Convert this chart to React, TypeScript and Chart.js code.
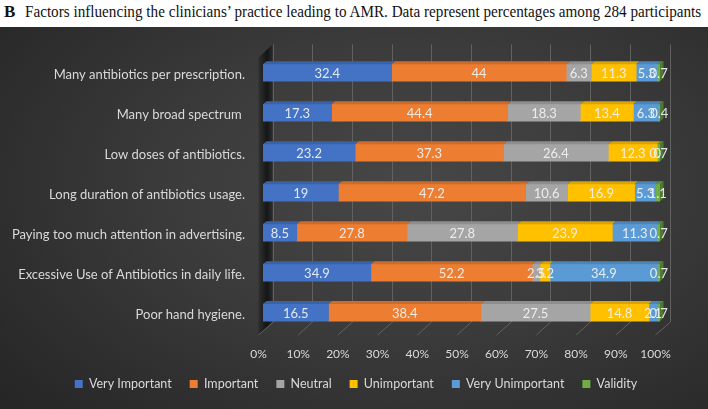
import React, { useEffect, useLayoutEffect, useRef } from "react";
import { Chart, registerables } from "chart.js";

Chart.register(...registerables);

const categories = [
  "Many antibiotics per prescription.",
  "Many broad spectrum ",
  "Low doses of antibiotics.",
  "Long duration of antibiotics usage.",
  "Paying too much attention in advertising.",
  "Excessive Use of Antibiotics in daily life.",
  "Poor hand hygiene.",
];
const seriesNames = ["Very Important", "Important", "Neutral", "Unimportant", "Very Unimportant", "Validity"];
const veryImportant = [32.4, 17.3, 23.2, 19, 8.5, 34.9, 16.5];
const important = [44, 44.4, 37.3, 47.2, 27.8, 52.2, 38.4];
const neutral = [6.3, 18.3, 26.4, 10.6, 27.8, 2.5, 27.5];
const unimportant = [11.3, 13.4, 12.3, 16.9, 23.9, 3.2, 14.8];
const veryUnimportant = [5.3, 6.3, 0, 5.3, 11.3, 34.9, 2.1];
const validity = [0.7, 0.4, 0.7, 1.1, 0.7, 0.7, 0.7];
const xTickValues = [0, 10, 20, 30, 40, 50, 60, 70, 80, 90, 100];

const seriesColors = ["#4472C4", "#ED7D31", "#A5A5A5", "#FFC000", "#5B9BD5", "#70AD47"];
const FONT = "Lato, 'Open Sans', sans-serif";
const TITLE_W = 676;

function shade(hex: string, f: number) {
  const n = parseInt(hex.slice(1), 16);
  const r = Math.round(((n >> 16) & 255) * f);
  const g = Math.round(((n >> 8) & 255) * f);
  const b = Math.round((n & 255) * f);
  return `rgb(${Math.min(255, r)},${Math.min(255, g)},${Math.min(255, b)})`;
}

const rawSeries = [veryImportant, important, neutral, unimportant, veryUnimportant, validity];

const decoPlugin = {
  id: "deco",
  afterLayout(chart: any) {
    if (chart.legend) {
      chart.legend.left += 26;
      chart.legend.right += 26;
    }
  },
  beforeDatasetsDraw(chart: any) {
    const ctx = chart.ctx;
    const xs = chart.scales.x;
    const a = chart.chartArea;
    const backTop = a.top - 8.4;
    const backBottom = a.bottom - 10.6;
    const frontBottom = a.bottom + 2.4;
    const b0 = xs.getPixelForValue(0);
    ctx.save();
    // left wall
    const g = ctx.createLinearGradient(b0 - 5, 0, b0 + 10, 0);
    g.addColorStop(0, "rgba(0,0,0,0.15)");
    g.addColorStop(0.6, "rgba(0,0,0,0.65)");
    g.addColorStop(1, "rgba(0,0,0,0.25)");
    ctx.fillStyle = g;
    ctx.beginPath();
    ctx.moveTo(b0 + 9.5, backTop);
    ctx.lineTo(b0 + 9.5, backBottom);
    ctx.lineTo(b0 - 4.5, frontBottom);
    ctx.lineTo(b0 - 4.5, backTop + 13);
    ctx.closePath();
    ctx.fill();
    // back wall grid + floor lines
    ctx.strokeStyle = "#616161";
    ctx.lineWidth = 1;
    for (const v of xTickValues) {
      const px = xs.getPixelForValue(v);
      const bx = Math.round(px + 9.5) + 0.5;
      ctx.beginPath();
      ctx.moveTo(bx, backTop);
      ctx.lineTo(bx, backBottom);
      ctx.lineTo(px - 4.5, frontBottom);
      ctx.stroke();
    }
    ctx.restore();
  },
  afterDatasetsDraw(chart: any) {
    const ctx = chart.ctx;
    const n = chart.data.datasets.length;
    ctx.save();
    const dx = 3.5;
    const dy = 3;
    for (let i = 0; i < n; i++) {
      const meta = chart.getDatasetMeta(i);
      meta.data.forEach((el: any) => {
        const left = Math.min(el.base, el.x);
        const right = Math.max(el.base, el.x);
        const top = el.y - el.height / 2;
        if (right - left <= 0) return;
        ctx.fillStyle = shade(seriesColors[i], 0.86);
        ctx.beginPath();
        ctx.moveTo(left, top);
        ctx.lineTo(left + dx, top - dy);
        ctx.lineTo(right + dx, top - dy);
        ctx.lineTo(right, top);
        ctx.closePath();
        ctx.fill();
      });
    }
    // right side face of last segment
    const lastMeta = chart.getDatasetMeta(n - 1);
    lastMeta.data.forEach((el: any) => {
      const right = Math.max(el.base, el.x);
      const top = el.y - el.height / 2;
      const bottom = el.y + el.height / 2;
      ctx.fillStyle = shade(seriesColors[n - 1], 0.7);
      ctx.beginPath();
      ctx.moveTo(right, top);
      ctx.lineTo(right + dx, top - dy);
      ctx.lineTo(right + dx, bottom - dy);
      ctx.lineTo(right, bottom);
      ctx.closePath();
      ctx.fill();
    });
    // data labels
    ctx.font = `13px ${FONT}`;
    ctx.fillStyle = "rgba(242,242,242,0.92)";
    ctx.textAlign = "center";
    ctx.textBaseline = "middle";
    for (let i = 0; i < n; i++) {
      const meta = chart.getDatasetMeta(i);
      meta.data.forEach((el: any, j: number) => {
        const cx = (el.base + el.x) / 2;
        ctx.fillText(String(rawSeries[i][j]), cx, el.y + 1);
      });
    }
    ctx.restore();
  },
};

function ChartView() {
  const ref = useRef<HTMLCanvasElement>(null);
  useEffect(() => {
    if (!ref.current) return;
    const totals = categories.map((_, j) => rawSeries.reduce((s, arr) => s + arr[j], 0));
    const datasets = rawSeries.map((arr, i) => ({
      label: seriesNames[i],
      data: arr.map((v, j) => (v / totals[j]) * 100),
      backgroundColor: seriesColors[i],
      borderWidth: 0,
      barThickness: 17,
    }));
    const chart = new Chart(ref.current, {
      type: "bar",
      data: { labels: categories, datasets },
      plugins: [decoPlugin],
      options: {
        animation: false,
        responsive: false,
        indexAxis: "y",
        layout: { padding: { top: 24.4, bottom: 8.75, left: 0, right: 48 } },
        scales: {
          x: {
            stacked: true,
            min: 0,
            max: 100,
            grid: { display: false, drawTicks: false },
            border: { display: false },
            afterBuildTicks: (s: any) => {
              s.ticks = xTickValues.map((v) => ({ value: v }));
            },
            afterFit: (s: any) => {
              s.height = 27.15;
            },
            ticks: {
              color: "#d9d9d9",
              font: { family: FONT, size: 12 },
              padding: 14,
              labelOffset: -4.5,
              maxRotation: 0,
              autoSkip: false,
              callback: (v: any) => `${v}%`,
            },
          },
          y: {
            stacked: true,
            grid: { display: false, drawTicks: false },
            border: { display: false },
            afterFit: (s: any) => {
              s.width = 263;
            },
            ticks: {
              color: "#d9d9d9",
              font: { family: FONT, size: 13 },
              padding: 18,
              labelOffset: 2,
              autoSkip: false,
            },
          },
        },
        plugins: {
          tooltip: { enabled: false },
          legend: {
            position: "bottom",
            labels: {
              color: "#d9d9d9",
              font: { family: FONT, size: 12.5 },
              boxWidth: 8,
              boxHeight: 8,
              padding: 18,
            },
          },
        },
      },
    });
    return () => chart.destroy();
  }, []);
  return <canvas ref={ref} width={708} height={382} style={{ display: "block", width: 708, height: 382 }} />;
}

export default function App() {
  const titleRef = useRef<HTMLSpanElement>(null);
  useLayoutEffect(() => {
    document.body.style.margin = "0";
    const el = titleRef.current;
    if (el) {
      const w = el.offsetWidth;
      if (w > 0) el.style.transform = `scaleX(${TITLE_W / w})`;
    }
  }, []);
  return (
    <div style={{ width: 708, height: 409, position: "relative", background: "#fff", overflow: "hidden" }}>
      <div style={{ position: "absolute", left: 4, top: 2, height: 25, fontFamily: "'Liberation Serif', 'Times New Roman', serif", fontSize: 16, lineHeight: "20px", color: "#111", whiteSpace: "nowrap" }}>
        <b style={{ fontSize: 17, display: "inline-block", width: 21 }}>B</b>
        <span ref={titleRef} style={{ display: "inline-block", transformOrigin: "left center" }}>
          Factors influencing the clinicians’ practice leading to AMR. Data represent percentages among 284 participants
        </span>
      </div>
      <div
        style={{
          position: "absolute",
          left: 0,
          top: 27,
          width: 708,
          height: 382,
          background: "radial-gradient(ellipse 75% 85% at 58% 42%, #474747 0%, #3b3b3b 45%, #262626 100%)",
        }}
      >
        <ChartView />
      </div>
    </div>
  );
}
